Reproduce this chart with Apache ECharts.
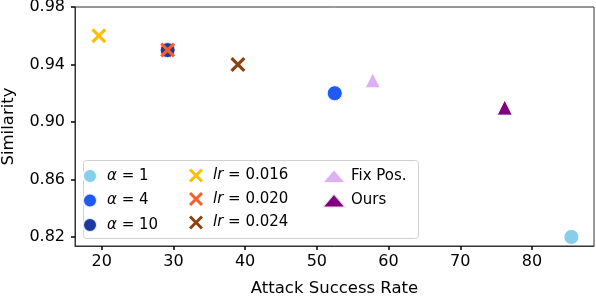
<!DOCTYPE html>
<html><head><meta charset="utf-8">
<script src="https://cdn.jsdelivr.net/npm/echarts@6/dist/echarts.min.js"></script>
<style>html,body{margin:0;padding:0;background:#fff}#c{width:596px;height:298px}</style>
</head><body><div id="c"></div>
<script>
// Series names (legend labels) and their points [attack success rate, similarity]
const seriesNames = ['α=1', 'α=4', 'α=10', 'lr=0.016', 'lr=0.020', 'lr=0.024', 'Fix Pos.', 'Ours'];
const alpha1 = [[85.5, 0.820]];
const alpha4 = [[52.5, 0.920]];
const alpha10 = [[29.2, 0.950]];
const lr016 = [[19.6, 0.960]];
const lr020 = [[29.2, 0.950]];
const lr024 = [[39.0, 0.940]];
const fixPos = [[57.8, 0.929]];
const ours = [[76.2, 0.910]];
const xTicks = [20, 30, 40, 50, 60, 70, 80];
const yTicks = [0.82, 0.86, 0.90, 0.94, 0.98];

const XPATH = 'path://M0,3 L3,0 L10,7 L17,0 L20,3 L13,10 L20,17 L17,20 L10,13 L3,20 L0,17 L7,10 Z';
const styles = [
  {c:'#87ceeb', s:'circle', sz:15},
  {c:'#1f5af5', s:'circle', sz:15},
  {c:'#1c3a9e', s:'circle', sz:15},
  {c:'#ffbf00', s:XPATH, sz:15},
  {c:'#ff5c26', s:XPATH, sz:15},
  {c:'#8b420f', s:XPATH, sz:15},
  {c:'#dcb0f2', s:'triangle', sz:15},
  {c:'#800080', s:'triangle', sz:15}
];
const datas = [alpha1, alpha4, alpha10, lr016, lr020, lr024, fixPos, ours];

const series = seriesNames.map((n, i) => ({
  name: n, type: 'scatter', data: datas[i],
  symbol: styles[i].s, symbolSize: styles[i].sz,
  itemStyle: {color: styles[i].c, opacity: 1,
    borderColor: styles[i].s === XPATH ? styles[i].c : 'rgba(255,255,255,0.85)',
    borderWidth: styles[i].s === XPATH ? 0 : 1},
  z: 2 + i
}));

const FONT = 'DejaVu Sans';
function fmt(name) {
  if (name.startsWith('α')) return '{i|α} = ' + name.slice(2);
  if (name.startsWith('lr')) return '{i|lr} = ' + name.slice(3);
  return name;
}
const LF = 15;
const legendText = {fontFamily: FONT, fontSize: LF, color: '#000',
  rich: {i: {fontFamily: FONT, fontSize: LF, fontStyle: 'italic', color: '#000'}}};
function mkLegend(names, left) {
  return {data: names, orient: 'vertical', left: left, top: 168, padding: 0,
    itemWidth: 24, itemHeight: 14, itemGap: 8.5, formatter: fmt,
    textStyle: legendText, selectedMode: false, z: 5};
}

const chart = echarts.init(document.getElementById('c'), null, {renderer: 'canvas'});
chart.setOption({
  animation: false,
  grid: {left: 75, right: 2, top: 7, bottom: 52, containLabel: false, outerBoundsMode: 'none',
    show: true, borderColor: '#333', borderWidth: 1},
  xAxis: {
    type: 'value', min: 16.28, max: 88.65,
    name: 'Attack Success Rate', nameLocation: 'middle', nameGap: 34,
    nameTextStyle: {fontFamily: FONT, fontSize: 16.5, color: '#000'},
    axisLine: {show: true, lineStyle: {color: '#333', width: 1}},
    axisTick: {show: true, length: 4, lineStyle: {color: '#000', width: 1.5}, customValues: xTicks},
    axisLabel: {fontFamily: FONT, fontSize: 16, color: '#000', margin: 8, customValues: xTicks},
    splitLine: {show: false}
  },
  yAxis: {
    type: 'value', min: 0.8137, max: 0.98,
    name: 'Similarity', nameLocation: 'middle', nameGap: 58,
    nameTextStyle: {fontFamily: FONT, fontSize: 16.5, color: '#000'},
    axisLine: {show: true, lineStyle: {color: '#333', width: 1}},
    axisTick: {show: true, length: 4, lineStyle: {color: '#000', width: 1.5}, customValues: yTicks},
    axisLabel: {fontFamily: FONT, fontSize: 16, color: '#000', margin: 10, customValues: yTicks,
      formatter: v => v.toFixed(2)},
    splitLine: {show: false}
  },
  graphic: [{type: 'rect', left: 83, top: 160, z: 3,
    shape: {width: 335, height: 78, r: 3},
    style: {fill: 'rgba(255,255,255,0.8)', stroke: '#d0d0d0', lineWidth: 1}}],
  legend: [
    mkLegend(seriesNames.slice(0, 3), 82),
    mkLegend(seriesNames.slice(3, 6), 189),
    mkLegend(seriesNames.slice(6, 8), 321)
  ],
  series: series
});
</script></body></html>
